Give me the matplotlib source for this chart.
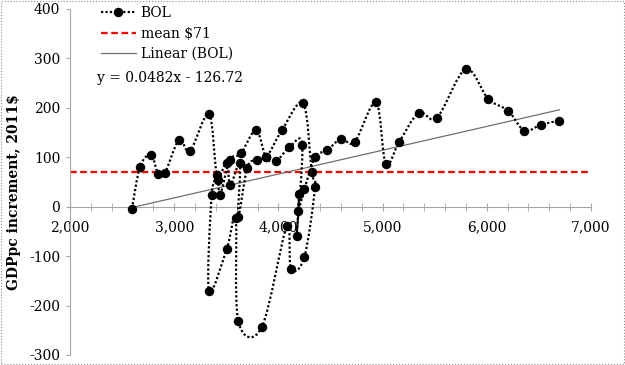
import numpy as np
import matplotlib
matplotlib.use('Agg')
import matplotlib.pyplot as plt
from matplotlib.path import Path
from matplotlib.patches import PathPatch, Rectangle
from matplotlib.lines import Line2D
from matplotlib.ticker import MultipleLocator, FuncFormatter

# GDP per capita level (x) and yearly increment (y) in order
gdppc = [2595, 2672, 2777, 2845, 2912, 3046, 3152, 3334, 3411, 3504,
         3538, 3631, 3615, 3702, 3792, 3885, 4037, 4239, 4320, 4351,
         4249, 4121, 4080, 3840, 3615, 3590, 3504, 3334, 3360, 3417,
         3440, 3533, 3641, 3785, 3881, 3980, 4105, 4229, 4175, 4201,
         4191, 4249, 4351, 4466, 4601, 4732, 4937, 5030, 5157, 5346,
         5522, 5797, 6014, 6206, 6360, 6520, 6696]
increment = [-4, 81, 105, 67, 69, 135, 113, 188, 65, 89,
             44, 88, -20, 79, 95, 100, 156, 209, 70, 39,
             -102, -126, -40, -244, -232, -23, -86, -171, 24, 54,
             23, 94, 108, 155, 100, 93, 120, 125, -59, 26,
             -8, 35, 100, 114, 137, 131, 211, 87, 130, 190,
             180, 278, 218, 194, 154, 166, 174]
mean_value = 71
slope, intercept = 0.0482, -126.72
equation_text = 'y = 0.0482x - 126.72'


def smooth_path(x, y):
    # Catmull-Rom style bezier through the points (like a spreadsheet "smoothed line")
    p = np.column_stack([x, y]).astype(float)
    n = len(p)
    t = np.zeros_like(p)
    t[1:-1] = (p[2:] - p[:-2]) / 2
    t[0] = (p[1] - p[0]) / 2
    t[-1] = (p[-1] - p[-2]) / 2
    verts = [p[0]]
    codes = [Path.MOVETO]
    for i in range(n - 1):
        verts += [p[i] + t[i] / 3, p[i + 1] - t[i + 1] / 3, p[i + 1]]
        codes += [Path.CURVE4] * 3
    return Path(verts, codes)


plt.rcParams['font.family'] = 'DejaVu Serif'
plt.rcParams['axes.unicode_minus'] = False

fig = plt.figure(figsize=(6.25, 3.65), dpi=100)
ax = fig.add_axes([70 / 625, 10 / 365, 521 / 625, 346 / 365])

ax.set_xlim(2000, 7000)
ax.set_ylim(-300, 400)

ax.axhline(mean_value, color='red', lw=1.6, ls=(0, (3, 1.6)), zorder=2)

xs = np.array([min(gdppc), max(gdppc)])
ax.plot(xs, slope * xs + intercept, color='#6f6f6f', lw=0.9, zorder=2)

ax.add_patch(PathPatch(smooth_path(gdppc, increment), fill=False,
                       ec='black', lw=1.6, ls=(0, (1, 1)), zorder=3))
ax.plot(gdppc, increment, 'o', color='black', ms=5.8, zorder=4)

for s in ['top', 'right']:
    ax.spines[s].set_visible(False)
ax.spines['bottom'].set_position(('data', 0))
ax.spines['bottom'].set_color('#a6a6a6')
ax.spines['left'].set_color('#a6a6a6')

ax.xaxis.set_major_locator(MultipleLocator(1000))
ax.xaxis.set_minor_locator(MultipleLocator(200))
ax.xaxis.set_major_formatter(FuncFormatter(lambda v, _: f'{int(v):,}'))
ax.yaxis.set_major_locator(MultipleLocator(100))
ax.tick_params(axis='x', which='both', direction='inout', length=6,
               color='#a6a6a6', labelsize=10, pad=7)
ax.tick_params(axis='y', direction='out', length=3, color='#a6a6a6',
               labelsize=10, pad=4)

ax.set_ylabel('GDPpc increment, 2011$', fontsize=10, fontweight='bold')
ax.yaxis.set_label_coords(-0.095, 0.47)

handles = [
    Line2D([], [], color='black', lw=1.6, ls=(0, (1, 1)), marker='o', ms=5.8),
    Line2D([], [], color='red', lw=1.6, ls=(0, (3, 1.6))),
    Line2D([], [], color='#6f6f6f', lw=0.9),
]
fig.legend(handles, ['BOL', 'mean $71', 'Linear (BOL)'], loc='upper left',
           bbox_to_anchor=(101 / 625, 1 - 6 / 365), frameon=False,
           fontsize=10, handlelength=2.5, handletextpad=0.35,
           labelspacing=0.47, borderpad=0, borderaxespad=0)
fig.text(97 / 625, 1 - 78 / 365, equation_text, fontsize=10, va='center')

fig.patches.append(Rectangle((0.001, 0.002), 0.997, 0.996,
                             transform=fig.transFigure, fill=False,
                             ec='#8c8c8c', lw=0.8, ls=':'))

fig.savefig('out.png', dpi=100)
